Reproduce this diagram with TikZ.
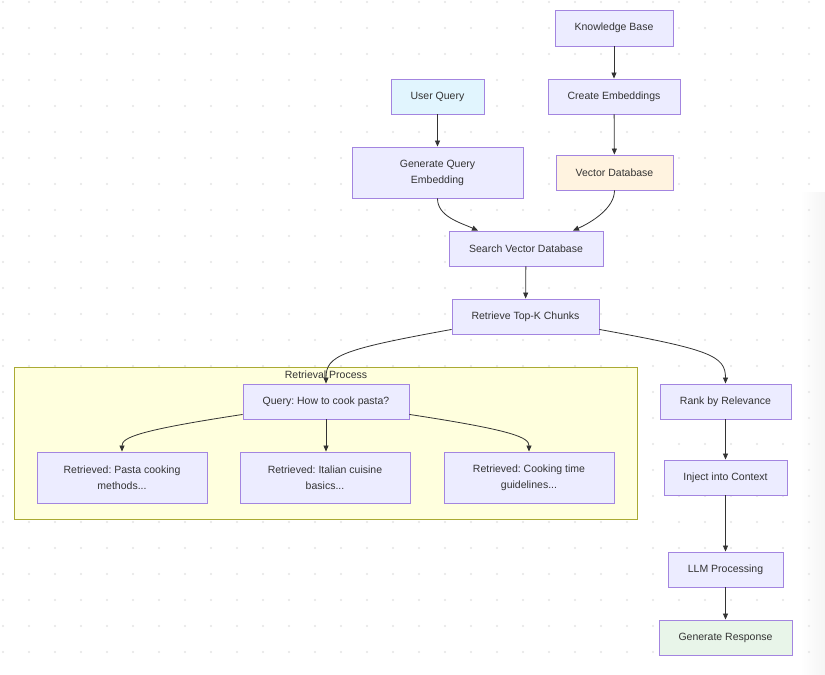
\documentclass[tikz,border=0pt]{standalone}
\usepackage{fontspec}
\setmainfont{Liberation Sans}
\usetikzlibrary{arrows.meta,calc}
\definecolor{nodefill}{HTML}{ECECFF}
\definecolor{nodeline}{HTML}{9370DB}
\definecolor{txt}{HTML}{333333}
\definecolor{bluefill}{HTML}{E1F5FE}
\definecolor{orangefill}{HTML}{FFF3E0}
\definecolor{greenfill}{HTML}{E8F5E9}
\definecolor{clusterfill}{HTML}{FFFFDE}
\definecolor{clusterline}{HTML}{AAAA33}
\definecolor{dotcol}{HTML}{E4E4E4}
\tikzset{
  box/.style={draw=nodeline!85, fill=nodefill, line width=0.9pt, rectangle, inner sep=0pt,
    text=txt, align=center, font=\fontsize{10.5}{16}\selectfont\frenchspacing},
  edge/.style={draw=txt, line width=0.8pt, -{Triangle[length=6pt,width=5pt]}},
}
\begin{document}
\begin{tikzpicture}[x=1pt,y=-1pt]
\useasboundingbox (0,0) rectangle (825,675);
\fill[white] (0,0) rectangle (825,675);
\shade[left color=white, right color=black!4] (800,192) rectangle (825,675);
\foreach \xx in {3,29,...,825} {
  \foreach \yy in {2,28,...,675} {
    \fill[dotcol] (\xx,\yy) circle (1.2);
  }
}
% cluster
\node[draw=clusterline, fill=clusterfill, line width=0.9pt, minimum width=623pt, minimum height=152pt, inner sep=0pt] (cluster) at (325.5,443) {};
\node[text=txt, font=\fontsize{10.5}{16}\selectfont] (clabel) at (326,375) {Retrieval Process};

\node[box, minimum width=118pt, minimum height=36pt] (kb) at (614,28) {Knowledge Base};
\node[box, fill=bluefill, minimum width=93pt, minimum height=35pt] (uq) at (437.5,96.5) {User Query};
\node[box, minimum width=132pt, minimum height=35pt] (ce) at (614,96.5) {Create Embeddings};
\node[box, minimum width=171pt, minimum height=51pt] (gen) at (437.5,172.5) {Generate Query\\Embedding};
\node[box, fill=orangefill, minimum width=117pt, minimum height=35pt] (vdb) at (614.5,172.5) {Vector Database};
\node[box, minimum width=154pt, minimum height=35pt] (search) at (526,248.5) {Search Vector Database};
\node[box, minimum width=147pt, minimum height=35pt] (topk) at (525.5,316.5) {Retrieve Top-K Chunks};
\node[box, minimum width=166pt, minimum height=35pt] (q) at (326,401.5) {Query: How to cook pasta?};
\node[box, minimum width=170pt, minimum height=51pt] (r1) at (122,477.5) {Retrieved: Pasta cooking\\methods...};
\node[box, minimum width=170pt, minimum height=51pt] (r2) at (325,477.5) {Retrieved: Italian cuisine\\basics...};
\node[box, minimum width=170pt, minimum height=51pt] (r3) at (529,477.5) {Retrieved: Cooking time\\guidelines...};
\node[box, minimum width=131pt, minimum height=35pt] (rank) at (725.5,401.5) {Rank by Relevance};
\node[box, minimum width=123pt, minimum height=35pt] (inj) at (725.5,477.5) {Inject into Context};
\node[box, minimum width=115pt, minimum height=35pt] (llm) at (725.5,569.5) {LLM Processing};
\node[box, fill=greenfill, minimum width=133pt, minimum height=35pt] (resp) at (725.5,637.5) {Generate Response};

% edges
\draw[edge] (kb) -- (ce);
\draw[edge] (uq) -- (gen);
\draw[edge] (ce) -- (vdb);
\draw[edge] (gen.south) .. controls +(0,18) and +(-18,-8) .. ($(search.north)+(-48,0)$);
\draw[edge] (vdb.south) .. controls +(0,18) and +(18,-8) .. ($(search.north)+(47,0)$);
\draw[edge] (search) -- (topk);
\draw[edge] ($(topk.south west)+(0,-5)$) .. controls +(-110,20) and +(0,-28) .. (q.north);
\draw[edge] ($(topk.south east)+(0,-5)$) .. controls +(110,20) and +(0,-28) .. (rank.north);
\draw[edge] ($(q.south west)+(0,-5)$) .. controls +(-105,16) and +(0,-14) .. (r1.north);
\draw[edge] (q.south) -- (q.south |- r2.north);
\draw[edge] ($(q.south east)+(0,-5)$) .. controls +(105,16) and +(0,-14) .. (r3.north);
\draw[edge] (rank) -- (inj);
\draw[edge] (inj) -- (llm);
\draw[edge] (llm) -- (resp);
\end{tikzpicture}
\end{document}
